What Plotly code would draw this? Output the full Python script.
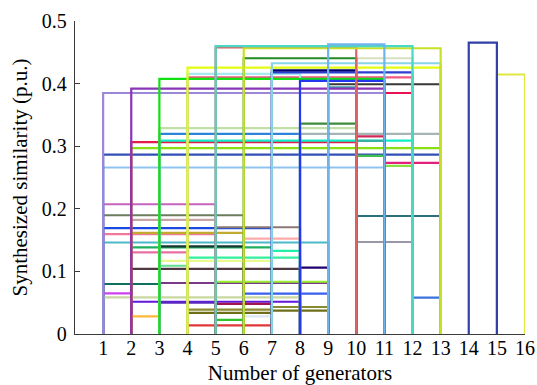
import plotly.graph_objects as go

# Each group of generators spans [group_start, group_end] on the x axis
# and carries one synthesized similarity value (p.u.).
group_start = [1, 1, 2, 1, 5, 1, 2, 6, 1, 2, 3, 7, 2, 4, 3, 3, 2, 8, 3, 5,
               1, 1, 6, 1, 2, 3, 5, 4, 4, 7, 7, 2, 6, 5, 4, 10, 10, 12,
               1, 11, 11, 1, 10, 2, 2, 3, 10, 10, 3, 8, 3, 8,
               11, 9, 9, 4, 4, 7, 7, 10, 6,
               1, 2, 3, 4, 8, 7, 5, 6, 5, 9, 15, 14]
group_end = [5, 6, 5, 7, 8, 5, 6, 8, 9, 7, 6, 8, 4, 8, 7, 4, 8, 9, 9, 9,
             3, 2, 9, 8, 8, 5, 7, 7, 7, 9, 9, 3, 7, 6, 7, 13, 12, 13,
             11, 13, 12, 13, 11, 13, 10, 12, 11, 11, 8, 13, 10, 10,
             12, 10, 13, 12, 8, 12, 10, 12, 10,
             11, 11, 11, 13, 11, 13, 10, 13, 12, 11, 16, 15]
similarity = [0.2073, 0.1897, 0.1822, 0.1690, 0.1705, 0.1595, 0.1617, 0.1524,
              0.1462, 0.1385, 0.1400, 0.1328, 0.1305, 0.1220, 0.1167, 0.1090,
              0.1039, 0.1060, 0.0815, 0.0835, 0.0799, 0.0650, 0.0645, 0.0586,
              0.0515, 0.0500, 0.0480, 0.0390, 0.0336, 0.0431, 0.0373, 0.0283,
              0.0283, 0.0225, 0.0139, 0.1885, 0.1470, 0.0580,
              0.2660, 0.2733, 0.2685, 0.2865, 0.2845, 0.2970, 0.3065, 0.3090,
              0.3085, 0.3158, 0.3196, 0.3196, 0.3290, 0.3360,
              0.3850, 0.3940, 0.3990, 0.4100, 0.4155, 0.4180, 0.4212, 0.4405,
              0.4405,
              0.3850, 0.3920, 0.4075, 0.4255, 0.4045, 0.4325, 0.4577, 0.4565,
              0.4600, 0.4625, 0.4145, 0.4655]

# Line colour of each group outline
group_colors = ['#c864c0', '#6b7d5c', '#c8a4a4', '#1a4ae0', '#8c7872', '#f07898',
                '#c0aa30', '#ffaaaa', '#4cb8c8', '#20b060', '#183830', '#20f0a8',
                '#e870a0', '#30f0a0', '#eaf890', '#60e090', '#503840', '#200070',
                '#7a3a88', '#98f030', '#107060', '#d040f0', '#3860f0', '#c8d8a0',
                '#6018e0', '#5a28c0', '#a01450', '#8a8a30', '#6e6e18', '#8a8a30',
                '#6e6e18', '#ffb838', '#dce6f4', '#30c030', '#e03838', '#2a6e80',
                '#9898a8', '#3874dc',
                '#90c4f0', '#e0207a', '#88e040', '#3050b8', '#40c050', '#88e010',
                '#e0204a', '#10eec8', '#38b0a4', '#d02858', '#2d84d8', '#a5b4b4',
                '#c0e0a8', '#3c8c3c',
                '#e81050', '#3aa0a8', '#383838', '#f05a80', '#a8e8f0', '#2a40d0',
                '#000070', '#d8e0c0', '#228b22',
                '#9b87d8', '#8b34b8', '#10e010', '#e4fc10', '#2438f0', '#88d4e8',
                '#dc6464', '#c8e028', '#48d8c4', '#70b4ec', '#e0e840', '#3040a8']

x_ticks = list(range(1, 17))
y_ticks = [0, 0.1, 0.2, 0.3, 0.4, 0.5]
y_tick_text = ['0', '0.1', '0.2', '0.3', '0.4', '0.5']

FONT = 'Times New Roman'

fig = go.Figure()
for x0, x1, h, c in zip(group_start, group_end, similarity, group_colors):
    fig.add_trace(go.Scatter(
        x=[x0, x0, x1, x1], y=[0, h, h, 0],
        mode='lines', line=dict(color=c, width=2.2),
        showlegend=False, hoverinfo='skip'))

axis_common = dict(
    showgrid=False, zeroline=False, showline=True,
    linecolor='#3a3a3a', linewidth=1.3,
    ticks='inside', ticklen=5, tickwidth=1.2, tickcolor='#3a3a3a',
    tickfont=dict(family=FONT, size=20, color='black'),
    layer='below traces', automargin=False,
)

fig.update_layout(
    width=537, height=385,
    margin=dict(l=75, r=12, t=21, b=51),
    paper_bgcolor='white', plot_bgcolor='white',
    font=dict(family=FONT, color='black'),
    xaxis=dict(range=[0, 16], tickvals=x_ticks,
               title=dict(text='Number of generators',
                          font=dict(family=FONT, size=21, color='black'),
                          standoff=14),
               ticklabelstandoff=-4,
               **axis_common),
    yaxis=dict(range=[0, 0.5], tickvals=y_ticks, ticktext=y_tick_text,
               title=dict(text='Synthesized similarity (p.u.)',
                          font=dict(family=FONT, size=21, color='black'),
                          standoff=8),
               ticklabelstandoff=3,
               **axis_common),
)

fig.write_html('out.html')
